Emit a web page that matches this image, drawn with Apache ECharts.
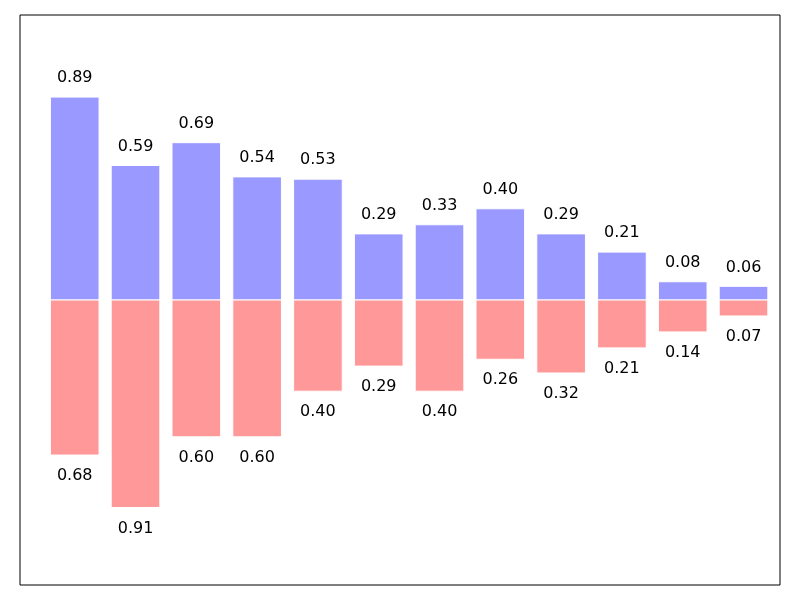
<!DOCTYPE html>
<html>
<head>
<meta charset="utf-8">
<script src="https://cdn.jsdelivr.net/npm/echarts@6/dist/echarts.min.js"></script>
<style>html,body{margin:0;padding:0;background:#fff}#c{width:800px;height:600px}</style>
</head>
<body>
<div id="c"></div>
<script>
const positions = [0,1,2,3,4,5,6,7,8,9,10,11];
const upperValues = [0.89,0.59,0.69,0.54,0.53,0.29,0.33,0.40,0.29,0.21,0.08,0.06];
const lowerValues = [0.68,0.91,0.60,0.60,0.40,0.29,0.40,0.26,0.32,0.21,0.14,0.07];
const barWidthUnits = 0.8;

const chart = echarts.init(document.getElementById('c'), null, {renderer:'canvas'});

function makeRender(color, sign) {
  return function(params, api) {
    const x = api.value(0), v = api.value(1) * sign;
    const p0 = api.coord([x, 0]);
    const p1 = api.coord([x + barWidthUnits, v]);
    const pl = api.coord([x + barWidthUnits/2, v + sign*0.05]);
    const top = Math.min(p0[1], p1[1]);
    const h = Math.abs(p1[1] - p0[1]);
    return {
      type: 'group',
      children: [
        {type:'rect', shape:{x:p0[0], y:top, width:p1[0]-p0[0], height:h},
         style:{fill:color, stroke:'#ffffff', lineWidth:1}},
        {type:'text', x: pl[0], y: pl[1] + (sign > 0 ? -7.5 : 9.5),
         style:{text: api.value(1).toFixed(2), fill:'#000', font:'16px "DejaVu Sans"',
                align:'center', verticalAlign:'middle'}}
      ]
    };
  };
}

chart.setOption({
  animation:false,
  grid:{left:20, right:20, top:15, bottom:15, show:true, borderColor:'#000', borderWidth:1, backgroundColor:'transparent'},
  xAxis:{type:'value', min:-0.5, max:12, show:false, splitLine:{show:false}},
  yAxis:{type:'value', min:-1.25, max:1.25, show:false, splitLine:{show:false}},
  series:[
    {type:'custom', renderItem: makeRender('#9999ff', 1), data: positions.map((p,i)=>[p, upperValues[i]]), clip:false},
    {type:'custom', renderItem: makeRender('#ff9999', -1), data: positions.map((p,i)=>[p, lowerValues[i]]), clip:false}
  ]
});
</script>
</body>
</html>
